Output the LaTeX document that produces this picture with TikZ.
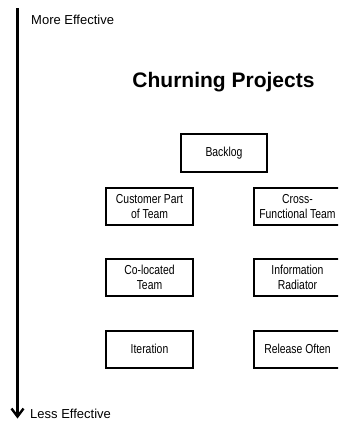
\documentclass[tikz,border=0pt]{standalone}
\usepackage{fontspec}
\setmainfont{Liberation Sans}
\newfontfamily\narrowfont[FakeStretch=0.8]{Liberation Sans}
\usetikzlibrary{arrows.meta}
\begin{document}
\begin{tikzpicture}[x=1pt,y=-1pt,
  practice/.style={draw, line width=2pt, minimum width=87pt, minimum height=37pt,
    inner sep=0pt, align=center, font=\narrowfont\fontsize{13}{14.5}\selectfont},
  axislabel/.style={anchor=base west, inner sep=0pt, font=\fontsize{13}{15}\selectfont}]
\useasboundingbox (0,0) rectangle (338,423);
\clip (0,0) rectangle (338,423);
\coordinate (top) at (17.5,8);
\coordinate (bot) at (17.5,418.5);
\draw[line width=2.4pt, -{Straight Barb[length=8pt,width=12pt,line width=2.4pt]}] (top) -- (bot);
\node[axislabel] (more) at (31,24.5) {More Effective};
\node[axislabel] (less) at (30,418) {Less Effective};
\node[anchor=base, inner sep=0pt, font=\fontsize{21}{24}\bfseries] (title) at (223.5,87) {Churning Projects};
\node[practice, minimum width=86pt, minimum height=38pt] (backlog) at (224,153) {Backlog};
\node[practice] (customer) at (149.5,206.5) {Customer Part\\of Team};
\node[practice] (cross) at (297.5,206.5) {Cross-\\Functional Team};
\node[practice] (colocated) at (149.5,277.5) {Co-located\\Team};
\node[practice] (radiator) at (297.5,277.5) {Information\\Radiator};
\node[practice] (iteration) at (149.5,349) {Iteration};
\node[practice] (release) at (297.5,349) {Release Often};
\end{tikzpicture}
\end{document}
